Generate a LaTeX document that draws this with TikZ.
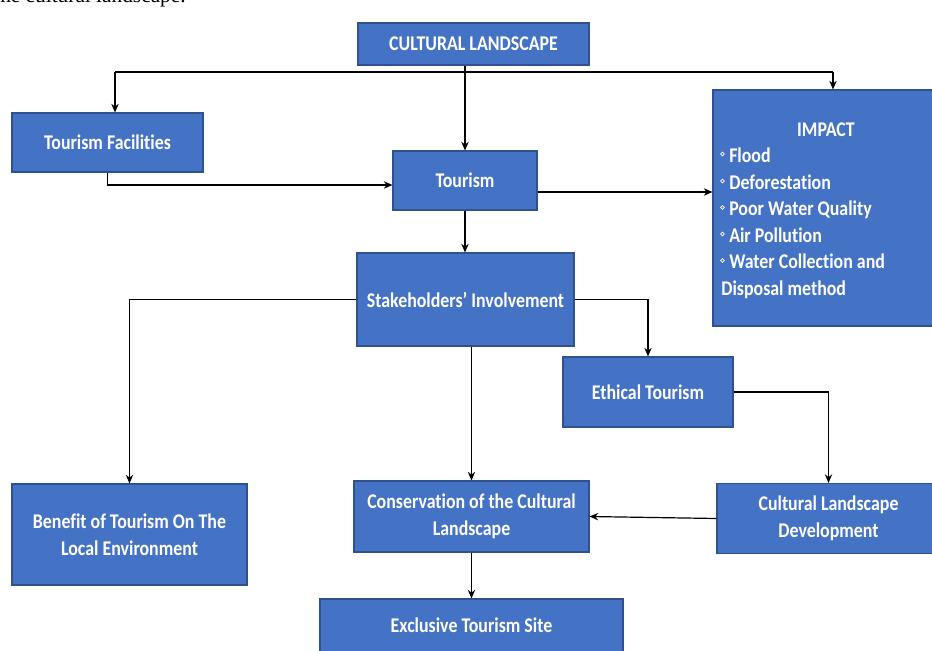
\documentclass[tikz,border=0pt]{standalone}
\usepackage{fontspec}
\usepackage{graphicx}
\setmainfont{Carlito}[Ligatures=NoCommon]
\newfontfamily\capfont{Liberation Serif}
\usetikzlibrary{arrows.meta,calc}
\definecolor{boxfill}{HTML}{4472C4}
\definecolor{boxline}{HTML}{2F528F}
\newcommand{\tx}[1]{\scalebox{1}[1.17]{#1}}
\tikzset{
  sz/.style 2 args={minimum width=#1*0.75pt, minimum height=#2*0.75pt},
  box/.style={draw=boxline, line width=0.8pt, fill=boxfill, inner sep=0pt,
    text=white, font=\bfseries\fontsize{13.4}{20.3}\selectfont, align=center},
  lbl/.style={text=white, font=\bfseries\fontsize{13.4}{20.3}\selectfont, inner sep=0pt},
  bu/.style={draw=white, line width=0.5pt},
  arr/.style={draw=black, line width=0.9pt, -{Stealth[length=6.5pt,width=5.5pt]}},
  ln/.style={draw=black, line width=0.9pt}
}
\begin{document}
\begin{tikzpicture}[x=0.75pt,y=-0.75pt]
\path[use as bounding box] (0,0) rectangle (932,650);
\clip (0,0) rectangle (932,650);
\fill[white] (0,0) rectangle (932,650);
% caption fragment cut at top
\node[anchor=base west, inner sep=0pt, font=\capfont\fontsize{16}{16}\selectfont] (cap) at (0,2.5) {he cultural landscape.};
% boxes
\node[box, sz={231}{42}] (cl) at (473.5,44) {\tx{CULTURAL LANDSCAPE}};
\node[box, sz={191}{59}] (fac) at (107.5,142.5) {\tx{Tourism Facilities}};
\node[box, sz={144}{59}] (tour) at (465,180.5) {\tx{Tourism}};
\node[box, sz={232}{236}] (imp) at (829,208) {};
\node[lbl, anchor=base] (imph) at (826,136) {\tx{IMPACT}};
\node[lbl, anchor=base west] (i1) at (729,162) {\tx{Flood}};
\node[lbl, anchor=base west] (i2) at (729,189) {\tx{Deforestation}};
\node[lbl, anchor=base west] (i3) at (729,215.5) {\tx{Poor Water Quality}};
\node[lbl, anchor=base west] (i4) at (729,242) {\tx{Air Pollution}};
\node[lbl, anchor=base west] (i5) at (729,268.5) {\tx{Water Collection and}};
\node[lbl, anchor=base west] (i6) at (721,295) {\tx{Disposal method}};
\foreach \yy in {154,181,207.5,234,260.5} \draw[bu] (722.5,\yy) circle[radius=1.4pt];
\node[box, sz={217}{93}] (stk) at (465.5,299.5) {\tx{Stakeholders’ Involvement}};
\node[box, sz={170}{70}] (eth) at (648,392) {\tx{Ethical Tourism}};
\node[box, sz={235}{101}] (ben) at (129.5,534.5) {\tx{Benefit of Tourism On The}\\ \tx{Local Environment}};
\node[box, sz={235}{71}] (cons) at (471.5,516.5) {\tx{Conservation of the Cultural}\\ \tx{Landscape}};
\node[box, sz={223}{70}] (cld) at (828.5,518.5) {\tx{Cultural Landscape}\\ \tx{Development}};
\node[box, sz={303}{53}] (excl) at (471.5,625.5) {\tx{Exclusive Tourism Site}};
% helper coordinates
\coordinate (jl) at (115,72);
\coordinate (jr) at (833,72);
\coordinate (yfac) at (0,185);
\coordinate (yimp) at (0,192);
% connectors
\draw[arr] (tour.north |- cl.south) -- (tour.north);
\draw[ln] (jl) -- (jr);
\draw[arr] (jl) -- (jl |- fac.north);
\draw[arr] (jr) -- (jr |- imp.north);
\draw[arr] (fac.south) -- (fac.south |- yfac) -- (tour.west |- yfac);
\draw[arr] (tour.east |- yimp) -- (imp.west |- yimp);
\draw[arr] (tour.south) -- (stk.north -| tour.south);
\draw[arr] (stk.west) -| (ben.north);
\draw[arr] (stk.east) -| (eth.north);
\draw[arr] (cons.north |- stk.south) -- (cons.north);
\draw[arr] (eth.east) -| (cld.north);
\draw[arr] (cld.west) -- (cons.east);
\draw[arr] (cons.south) -- (excl.north);
\end{tikzpicture}
\end{document}
